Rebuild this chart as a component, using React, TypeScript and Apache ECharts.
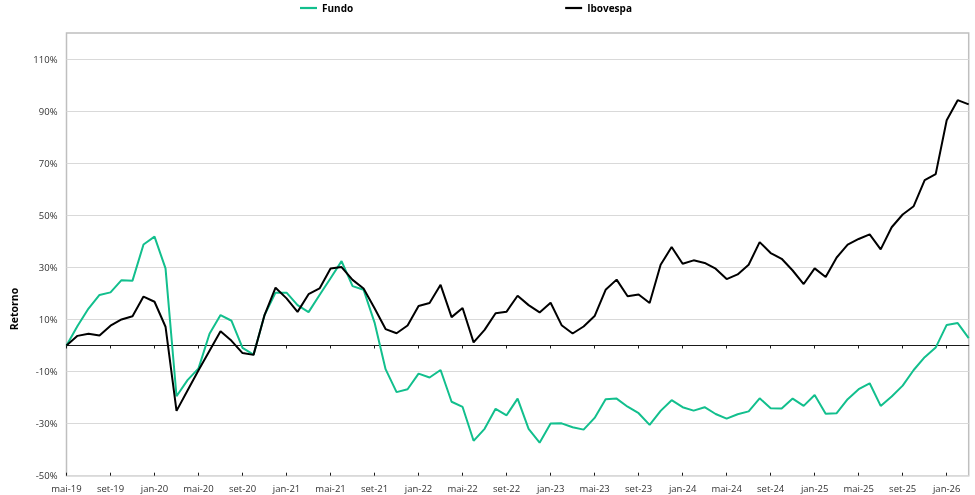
import { useEffect, useRef } from 'react';
import * as echarts from 'echarts';

const months = [
  'mai-19', 'jun-19', 'jul-19', 'ago-19', 'set-19', 'out-19', 'nov-19', 'dez-19',
  'jan-20', 'fev-20', 'mar-20', 'abr-20', 'mai-20', 'jun-20', 'jul-20', 'ago-20', 'set-20', 'out-20', 'nov-20', 'dez-20',
  'jan-21', 'fev-21', 'mar-21', 'abr-21', 'mai-21', 'jun-21', 'jul-21', 'ago-21', 'set-21', 'out-21', 'nov-21', 'dez-21',
  'jan-22', 'fev-22', 'mar-22', 'abr-22', 'mai-22', 'jun-22', 'jul-22', 'ago-22', 'set-22', 'out-22', 'nov-22', 'dez-22',
  'jan-23', 'fev-23', 'mar-23', 'abr-23', 'mai-23', 'jun-23', 'jul-23', 'ago-23', 'set-23', 'out-23', 'nov-23', 'dez-23',
  'jan-24', 'fev-24', 'mar-24', 'abr-24', 'mai-24', 'jun-24', 'jul-24', 'ago-24', 'set-24', 'out-24', 'nov-24', 'dez-24',
  'jan-25', 'fev-25', 'mar-25', 'abr-25', 'mai-25', 'jun-25', 'jul-25', 'ago-25', 'set-25', 'out-25', 'nov-25', 'dez-25',
  'jan-26', 'fev-26', 'mar-26',
];

const fundo = [
  0, 7.5, 14.2, 19.4, 20.4, 25.1, 24.9, 38.8,
  41.8, 29.6, -19.5, -13.3, -8.8, 4.5, 11.7, 9.5, -0.9, -3.5, 11.7, 20.3,
  20.3, 15.5, 12.8, 19.4, 25.8, 32.4, 22.8, 21.4, 8.8, -9.1, -17.9, -16.8,
  -10.8, -12.3, -9.4, -21.6, -23.6, -36.6, -32.0, -24.3, -26.8, -20.4, -32.0, -37.3,
  -30.0, -29.9, -31.4, -32.3, -27.8, -20.6, -20.4, -23.5, -26.0, -30.5, -25.1, -21.0,
  -23.7, -25.0, -23.7, -26.3, -28.1, -26.4, -25.3, -20.3, -24.1, -24.2, -20.4, -23.2,
  -19.0, -26.2, -26.0, -20.6, -16.8, -14.5, -23.2, -19.6, -15.4, -9.4, -4.5, -0.8,
  7.9, 8.6, 2.8,
];

const ibovespa = [
  0, 3.7, 4.5, 3.8, 7.6, 10.0, 11.2, 18.8,
  16.8, 7.2, -25.1, -17.3, -9.5, -2.0, 5.5, 1.8, -2.9, -3.6, 11.7, 22.2,
  18.1, 12.9, 19.7, 21.9, 29.6, 30.1, 25.2, 21.9, 14.3, 6.3, 4.7, 7.7,
  15.2, 16.3, 23.3, 10.9, 14.4, 1.2, 6.0, 12.4, 13.0, 19.1, 15.5, 12.7,
  16.4, 7.8, 4.6, 7.3, 11.3, 21.4, 25.3, 18.9, 19.6, 16.3, 31.0, 37.8,
  31.4, 32.7, 31.7, 29.5, 25.5, 27.3, 31.0, 39.7, 35.5, 33.3, 28.8, 23.6,
  29.6, 26.3, 33.8, 38.7, 40.9, 42.7, 36.9, 45.4, 50.3, 53.5, 63.5, 65.8,
  86.5, 94.2, 92.6,
];

const yLabelValues = [-50, -30, -10, 10, 30, 50, 70, 90, 110];

const GREEN = '#12bf8d';
const FONT = 'Open Sans';

export default function App() {
  const ref = useRef<HTMLDivElement>(null);

  useEffect(() => {
    const chart = echarts.init(ref.current!, null, { renderer: 'svg' });
    const zeroAxisBase = {
      type: 'category',
      data: months,
      boundaryGap: false,
      position: 'bottom',
      axisLabel: { show: false },
      splitLine: { show: false },
    };
    chart.setOption({
      animation: false,
      textStyle: { fontFamily: FONT },
      grid: {
        left: 66.5,
        right: 6.3,
        top: 33,
        bottom: 19.3,
        show: true,
        borderColor: '#bfbfbf',
        borderWidth: 1.5,
        containLabel: false,
      },
      legend: {
        left: 300,
        top: 3,
        padding: 0,
        itemGap: 212,
        itemWidth: 17,
        itemHeight: 2.2,
        icon: 'rect',
        textStyle: { fontFamily: FONT, fontWeight: 'bold', fontSize: 10, color: '#000' },
        data: ['Fundo', 'Ibovespa'],
      },
      xAxis: [
        {
          type: 'category',
          data: months,
          boundaryGap: false,
          position: 'bottom',
          axisLine: { show: false, onZero: false },
          axisTick: { show: false },
          axisLabel: { interval: 3, margin: 8, fontSize: 9.5, color: '#333', fontFamily: FONT },
          splitLine: { show: false },
        },
        {
          ...zeroAxisBase,
          axisLine: { show: true, onZero: true, lineStyle: { color: '#1a1a1a', width: 1.2 } },
          axisTick: { show: true, interval: 3, length: 3, lineStyle: { color: '#1a1a1a', width: 1 } },
        },
        {
          ...zeroAxisBase,
          axisLine: { show: false, onZero: true },
          axisTick: { show: true, inside: true, interval: 3, length: 3, lineStyle: { color: '#1a1a1a', width: 1 } },
        },
      ],
      yAxis: {
        type: 'value',
        min: -50,
        max: 120,
        interval: 10,
        axisLine: { show: false },
        axisTick: { show: false },
        axisLabel: {
          margin: 9,
          fontSize: 9.5,
          color: '#333',
          fontFamily: FONT,
          formatter: (v: number) => (yLabelValues.includes(Math.round(v)) ? `${Math.round(v)}%` : ''),
        },
        splitLine: { show: true, lineStyle: { color: ['#d9d9d9', 'rgba(0,0,0,0)'], width: 1 } },
      },
      graphic: [
        {
          type: 'text',
          x: 14,
          y: 309,
          rotation: Math.PI / 2,
          style: {
            text: 'Retorno',
            font: `bold 10.5px "${FONT}"`,
            fill: '#000',
            textAlign: 'center',
            verticalAlign: 'middle',
          },
        },
      ],
      series: [
        {
          name: 'Fundo',
          type: 'line',
          xAxisIndex: 0,
          data: fundo,
          symbol: 'none',
          lineStyle: { color: GREEN, width: 2 },
          itemStyle: { color: GREEN },
        },
        {
          name: 'Ibovespa',
          type: 'line',
          xAxisIndex: 0,
          data: ibovespa,
          symbol: 'none',
          lineStyle: { color: '#000', width: 2 },
          itemStyle: { color: '#000' },
        },
      ],
    });
    return () => chart.dispose();
  }, []);

  return <div ref={ref} style={{ position: 'fixed', left: 0, top: 0, width: 975, height: 495 }} />;
}
